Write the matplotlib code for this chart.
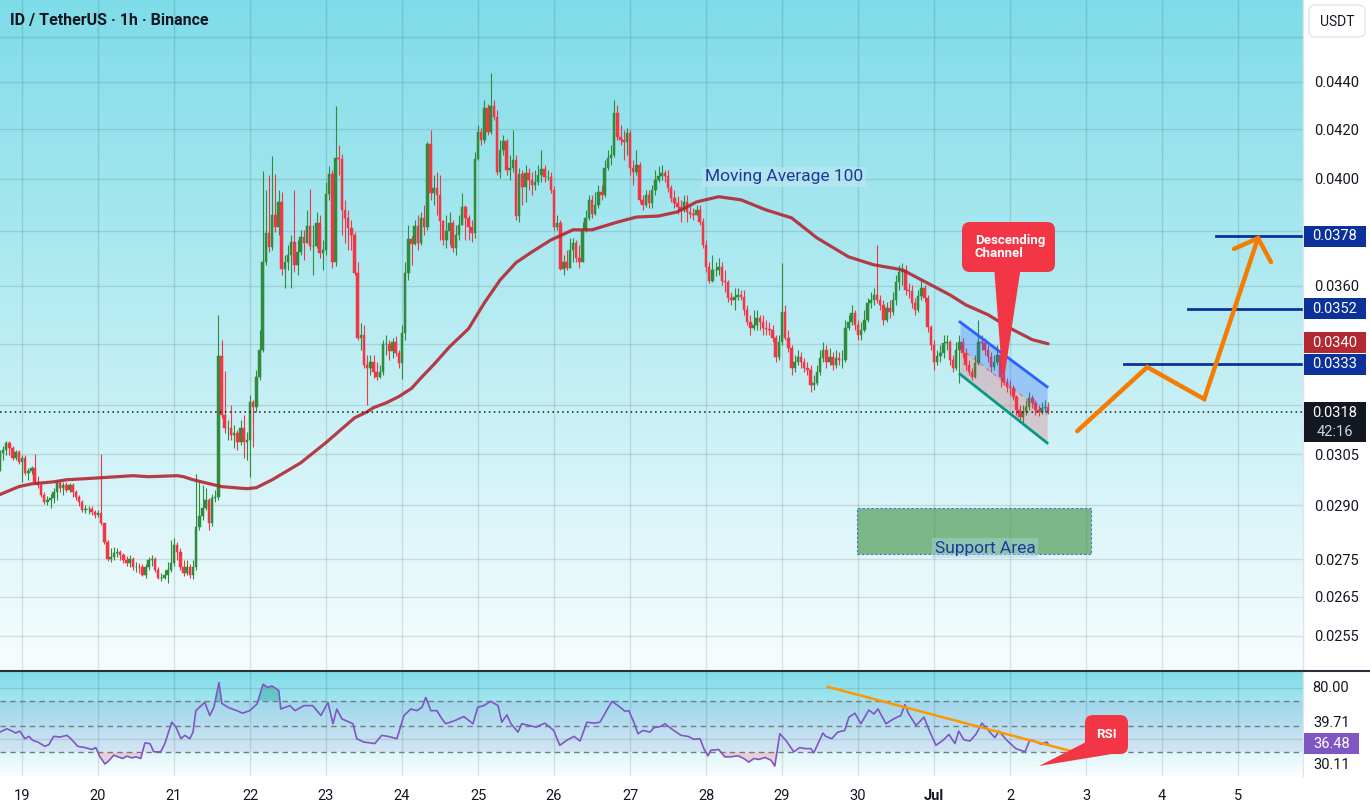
import numpy as np
import matplotlib
matplotlib.use("Agg")
import matplotlib.pyplot as plt
from matplotlib.patches import Rectangle, FancyBboxPatch, Polygon
from matplotlib.transforms import Affine2D
from matplotlib.ticker import NullLocator, NullFormatter

plt.rcParams['font.family'] = ['Roboto', 'DejaVu Sans']

# ------------------------------------------------------------------
# DATA  (prices in units of 0.0001 USDT, time in hours from 18 Jun 17:00)
# ------------------------------------------------------------------
SCALE = 1e-4
title = "ID / TetherUS · 1h · Binance"
first_open = 300.4

closes = [
    305.4, 306.3, 308.5, 306.9, 303.9, 305.7, 302.7, 303.9, 299.5, 300.1, 301.0, 296.8,
    296.0, 293.1, 291.0, 291.6, 292.2, 293.7, 296.5, 295.1, 296.0, 294.5, 296.0, 293.9,
    292.5, 291.0, 288.8, 289.0, 289.0, 288.2, 287.3, 287.9, 285.0, 279.8, 275.2, 275.7,
    276.8, 277.1, 276.3, 274.9, 274.1, 275.2, 272.8, 273.0, 272.8, 270.9, 273.0, 274.9,
    275.2, 272.2, 270.1, 270.1, 270.7, 272.2, 274.1, 279.0, 277.1, 273.0, 271.4, 273.0,
    270.9, 273.0, 283.9, 287.0, 289.3, 291.6, 285.0, 292.2, 292.5, 336.1, 317.1, 313.0,
    313.0, 310.9, 311.5, 308.8, 313.0, 308.8, 309.4, 321.2, 319.6, 329.2, 338.0, 368.6,
    379.2, 374.0, 386.0, 381.5, 391.0, 366.0, 368.6, 371.1, 375.9, 367.5, 372.2, 377.8,
    375.5, 381.8, 374.4, 374.4, 382.9, 371.8, 373.0, 394.1, 401.9, 368.6, 408.3, 407.9,
    387.9, 384.9, 381.1, 378.5, 364.6, 342.0, 343.0, 333.1, 332.1, 334.1, 330.8, 329.2,
    330.8, 340.0, 340.0, 337.7, 340.7, 337.1, 333.7, 343.7, 364.6, 377.0, 375.2, 381.8,
    375.5, 384.9, 381.5, 414.0, 394.5, 396.4, 393.7, 383.7, 376.6, 380.0, 382.9, 373.7,
    378.5, 382.2, 389.1, 384.9, 381.5, 379.2, 407.9, 418.9, 415.6, 428.9, 418.9, 429.7,
    425.1, 402.7, 411.5, 415.2, 403.5, 404.3, 407.5, 385.6, 401.9, 396.8, 402.3, 399.6,
    397.6, 398.8, 401.5, 403.9, 400.7, 400.7, 395.7, 381.5, 382.9, 366.0, 368.6, 366.4,
    373.0, 375.5, 370.0, 368.6, 380.4, 384.9, 391.8, 386.4, 389.9, 394.9, 393.7, 404.3,
    408.3, 409.5, 426.8, 416.8, 415.6, 414.8, 418.5, 404.3, 402.7, 405.5, 391.8, 389.9,
    393.7, 390.6, 395.7, 399.6, 401.1, 402.3, 401.1, 396.4, 392.5, 390.6, 389.1, 387.9,
    391.0, 387.2, 386.4, 386.0, 387.9, 383.3, 374.8, 366.8, 361.8, 365.7, 365.7, 366.8,
    361.8, 361.4, 355.8, 355.1, 356.1, 356.8, 356.1, 351.6, 347.4, 345.4, 346.4, 348.8,
    347.4, 345.4, 345.1, 344.7, 342.0, 335.7, 340.7, 350.9, 342.0, 338.7, 332.1, 334.1,
    335.7, 334.1, 332.1, 331.4, 326.6, 327.2, 330.8, 335.4, 338.0, 334.1, 335.7, 333.1,
    335.4, 334.7, 334.7, 345.4, 347.4, 350.6, 346.4, 343.0, 344.7, 348.1, 354.0, 355.1,
    356.8, 355.1, 353.3, 348.1, 352.3, 350.9, 355.1, 361.4, 365.0, 365.7, 358.6, 358.3,
    354.0, 351.6, 356.5, 359.3, 355.8, 345.8, 339.7, 334.1, 336.1, 337.1, 340.4, 340.7,
    334.7, 332.1, 338.0, 340.7, 337.1, 333.1, 330.8, 329.2, 333.7, 340.7, 340.4, 338.0,
    335.7, 332.4, 334.1, 336.4, 329.2, 327.6, 326.0, 325.6, 322.8, 318.7, 316.5, 318.0,
    319.6, 322.4, 320.8, 318.7, 318.0, 319.3, 319.6, 318.0,
]

highs = [
    306.3, 307.5, 309.1, 309.1, 307.5, 306.3, 306.3, 304.8, 304.8, 301.0, 301.5, 305.1,
    298.6, 296.5, 293.9, 292.8, 293.4, 295.1, 297.4, 297.4, 296.8, 296.8, 296.5, 296.5,
    294.5, 293.1, 291.6, 290.2, 289.9, 289.9, 288.8, 288.8, 305.1, 284.5, 280.4, 278.2,
    278.4, 278.2, 277.6, 276.8, 276.0, 276.3, 275.7, 274.4, 274.1, 273.6, 273.6, 275.5,
    276.3, 275.5, 272.8, 271.4, 272.2, 274.4, 280.4, 280.9, 279.6, 278.2, 274.9, 274.9,
    273.6, 274.9, 299.2, 296.8, 296.0, 295.1, 292.2, 293.4, 294.5, 349.9, 341.4, 331.1,
    315.5, 320.2, 314.0, 312.4, 315.5, 317.1, 311.8, 323.4, 321.8, 331.4, 344.7, 403.1,
    395.7, 401.5, 409.1, 401.9, 395.7, 394.9, 371.1, 374.8, 378.5, 395.7, 376.6, 380.4,
    380.4, 387.9, 396.1, 382.2, 387.2, 386.0, 376.6, 398.8, 405.1, 403.5, 429.7, 413.6,
    409.9, 391.8, 387.9, 384.1, 379.6, 368.6, 347.1, 346.4, 336.4, 336.4, 336.4, 334.1,
    333.1, 341.4, 343.0, 341.4, 342.0, 342.7, 338.0, 346.4, 368.6, 382.2, 378.1, 384.1,
    386.0, 387.2, 389.9, 414.8, 419.7, 401.5, 402.7, 401.5, 384.1, 386.0, 387.2, 384.1,
    382.2, 386.0, 394.5, 389.9, 386.0, 384.1, 410.7, 421.8, 420.6, 432.3, 430.6, 443.9,
    432.3, 428.1, 415.6, 417.7, 415.9, 409.5, 419.7, 409.5, 404.3, 403.5, 405.5, 404.3,
    402.7, 403.5, 405.5, 411.5, 405.5, 403.5, 402.7, 397.2, 386.0, 384.1, 371.1, 373.0,
    377.4, 377.4, 376.6, 374.8, 383.3, 387.9, 393.7, 393.7, 394.9, 397.6, 397.6, 407.5,
    411.5, 413.6, 432.3, 430.2, 421.8, 419.7, 420.6, 419.7, 407.5, 411.5, 406.7, 393.7,
    395.7, 395.7, 397.6, 403.5, 405.1, 405.5, 403.5, 403.5, 397.6, 395.7, 393.3, 391.8,
    393.7, 393.7, 389.9, 388.7, 389.9, 389.9, 384.9, 376.6, 368.6, 371.1, 368.6, 370.0,
    368.6, 365.7, 362.1, 357.9, 359.3, 359.3, 358.6, 358.6, 353.3, 349.9, 351.6, 351.6,
    349.9, 349.9, 348.1, 347.4, 346.4, 343.0, 343.0, 368.3, 353.3, 344.7, 339.7, 336.4,
    338.0, 337.3, 335.4, 334.1, 333.1, 329.8, 333.1, 338.0, 340.7, 339.7, 338.7, 337.3,
    338.0, 337.3, 338.0, 348.1, 349.9, 353.3, 351.6, 348.1, 347.4, 351.6, 355.8, 357.9,
    359.3, 374.8, 356.8, 355.1, 354.4, 355.1, 357.9, 363.9, 367.5, 368.3, 367.5, 361.1,
    360.4, 355.8, 358.6, 362.1, 360.4, 356.8, 346.4, 341.4, 338.0, 339.7, 343.0, 343.0,
    341.4, 336.4, 340.7, 343.0, 342.0, 338.7, 334.7, 332.1, 336.4, 348.1, 343.0, 342.0,
    339.7, 337.3, 336.4, 339.7, 337.3, 330.8, 328.8, 328.2, 326.6, 323.4, 320.2, 320.2,
    321.8, 324.4, 323.4, 321.8, 320.2, 321.2, 321.8, 321.2,
]

lows = [
    300.0, 303.3, 304.8, 304.8, 303.3, 303.3, 302.1, 296.8, 298.9, 297.4, 299.2, 296.2,
    295.1, 292.5, 290.5, 290.2, 289.3, 290.7, 291.6, 293.9, 293.1, 293.9, 293.7, 292.5,
    291.6, 289.9, 288.2, 287.9, 287.6, 287.3, 286.5, 286.7, 284.5, 279.3, 274.6, 274.4,
    274.9, 275.5, 274.9, 274.1, 273.3, 272.8, 272.2, 271.7, 271.4, 270.4, 270.1, 272.2,
    273.3, 271.7, 269.6, 269.1, 269.6, 268.6, 271.7, 273.3, 274.9, 272.2, 270.4, 270.7,
    270.1, 269.6, 272.2, 283.1, 285.9, 288.8, 283.1, 284.2, 291.0, 291.6, 316.2, 311.5,
    309.4, 309.4, 306.9, 306.3, 307.8, 303.9, 303.3, 298.3, 307.2, 318.0, 328.2, 337.3,
    367.5, 372.2, 373.0, 379.6, 378.5, 363.9, 359.3, 365.7, 359.3, 365.0, 363.9, 371.1,
    369.3, 376.6, 373.0, 363.9, 373.7, 370.0, 365.7, 371.1, 391.8, 366.4, 367.1, 401.5,
    378.5, 375.5, 373.0, 373.0, 363.9, 341.4, 338.0, 332.1, 320.2, 329.8, 328.8, 328.2,
    328.8, 329.8, 336.4, 334.7, 335.4, 336.1, 332.1, 328.5, 341.4, 362.1, 367.5, 374.8,
    373.0, 374.8, 378.5, 380.4, 391.8, 389.9, 386.0, 376.6, 374.8, 373.7, 374.8, 372.2,
    371.1, 376.6, 382.2, 376.6, 376.6, 375.9, 377.4, 407.5, 413.6, 414.4, 417.7, 418.1,
    423.9, 401.5, 400.4, 409.5, 401.5, 399.6, 402.7, 384.1, 383.3, 389.9, 391.0, 395.7,
    393.7, 395.7, 397.6, 398.8, 398.8, 399.6, 394.5, 380.4, 380.4, 365.7, 363.9, 365.7,
    368.6, 368.6, 368.6, 366.4, 368.6, 379.6, 384.1, 384.9, 386.0, 388.7, 391.8, 393.0,
    403.5, 405.5, 408.7, 415.6, 413.6, 407.5, 409.5, 401.5, 397.6, 401.5, 390.6, 387.9,
    389.1, 388.7, 388.7, 393.7, 398.8, 399.6, 398.8, 394.9, 391.0, 388.7, 386.4, 383.3,
    387.2, 383.3, 384.9, 384.1, 386.0, 382.2, 373.7, 365.0, 361.1, 361.4, 363.6, 363.9,
    360.4, 357.9, 354.4, 353.3, 351.6, 355.1, 355.1, 349.9, 346.4, 343.0, 344.7, 344.7,
    344.7, 343.0, 343.0, 343.0, 340.7, 334.1, 334.7, 339.7, 341.4, 337.3, 329.8, 330.8,
    333.1, 332.1, 330.8, 329.8, 324.1, 325.0, 326.6, 329.8, 334.1, 332.1, 333.1, 331.4,
    332.1, 333.1, 332.1, 334.1, 344.7, 346.4, 344.7, 341.4, 341.4, 344.0, 347.4, 352.3,
    353.3, 354.0, 351.6, 346.4, 347.4, 348.8, 349.9, 353.3, 358.6, 360.4, 356.8, 355.8,
    352.3, 349.9, 350.9, 355.1, 354.4, 344.0, 338.0, 331.4, 333.1, 334.1, 335.4, 338.0,
    333.1, 330.8, 331.4, 327.2, 335.4, 331.4, 329.8, 328.2, 328.8, 333.1, 338.0, 336.4,
    334.1, 330.8, 331.4, 333.1, 326.0, 326.6, 324.4, 323.4, 321.8, 317.1, 314.9, 314.6,
    317.1, 318.7, 319.3, 317.1, 316.8, 317.4, 318.0, 317.4,
]

ma_hours = [0, 6, 10, 17, 21, 32, 42, 47, 56, 58, 61, 65, 70, 74, 78, 81, 86, 95,
            103, 112, 116, 118, 122, 126, 130, 133, 137, 142, 148, 153, 158, 163,
            168, 174, 181, 187, 195, 201, 208, 214, 220, 227, 234, 242, 250, 258,
            268, 276, 285, 291, 300, 305, 312, 320, 326, 331]
ma_values = [293.1, 295.4, 296.2, 296.8, 297.4, 298.0, 298.6, 298.3, 298.6, 298.3,
             297.4, 296.5, 295.4, 295.1, 294.8, 295.1, 297.4, 302.4, 308.5, 316.1,
             318.0, 319.3, 320.8, 322.8, 325.4, 328.8, 333.1, 339.0, 345.1, 354.0,
             362.1, 368.3, 372.2, 376.6, 380.4, 380.4, 383.3, 385.2, 385.6, 387.2,
             391.0, 393.0, 391.8, 387.9, 384.9, 377.4, 370.4, 367.5, 365.7, 362.1,
             356.8, 353.3, 349.9, 344.7, 341.4, 340.0]

rsi_hours = [
    0, 2.2, 3.5, 5, 6.3, 7.9, 9.2, 10.4, 12, 14.2,
    15.5, 17, 19, 21.2, 22.4, 24.6, 26.8, 29.1, 30.3, 31.6,
    33.2, 34.4, 36, 37.3, 38.8, 40.1, 41.7, 43, 44.5, 45.8,
    47.4, 48.6, 50.8, 52.1, 54.3, 55.6, 57.2, 58.4, 60, 61,
    61.9, 64.7, 66.3, 67.6, 69.2, 70.1, 72, 74.8, 76.7, 78.9,
    81.2, 83.1, 84.6, 85.9, 87.5, 88.1, 88.7, 91.6, 93.2, 96,
    98.8, 101.4, 103.6, 105.2, 106.4, 108, 111.5, 112.7, 114.9, 118.4,
    120.6, 122.5, 125.4, 127.6, 129.8, 131.7, 133.3, 134.5, 136.1, 138,
    139.6, 140.8, 143.7, 146.5, 149.4, 150.9, 152.8, 155, 157.3, 158.5,
    160.1, 161.4, 163.6, 164.8, 167.1, 169.3, 172.1, 174.9, 176.8, 179,
    181.3, 183.2, 185.4, 187.6, 189.5, 191.7, 193.3, 195.2, 197.4, 198.6,
    200.2, 201.5, 203.1, 205.3, 206.5, 208.7, 210, 212.8, 215.1, 217.3,
    219.2, 221.1, 222.3, 223.6, 224.5, 227, 228.9, 230.8, 233.1, 234.9,
    236.5, 238.1, 239.7, 241.6, 243.5, 244.7, 246.3, 248.2, 250.7, 252.6,
    254.2, 256.1, 257, 259.9, 260.8, 262.7, 264.6, 266.8, 268.1, 270,
    271.9, 274.4, 276, 277.3, 279.8, 281.7, 283.3, 284.5, 285.8, 287,
    289.3, 291.8, 293.7, 295.6, 297.8, 299.7, 301.6, 302.8, 304.4, 306.3,
    308.2, 310.1, 311.7, 314.2, 315.5, 318, 320.8, 323.7, 325.3, 326.8,
    328.7, 330.6, 331,
]
rsi_values = [
    45.6, 48.2, 46.9, 44.9, 46.4, 40.5, 42.3, 39.2, 37.9, 34.6,
    35.9, 42.3, 41.8, 43.1, 40.5, 34.6, 33.6, 32.1, 33.6, 26.4,
    20.8, 23.3, 27.7, 26.4, 25.1, 26.9, 25.6, 26.4, 25.1, 37.2,
    36.7, 30.3, 30.3, 36.7, 53.3, 49.5, 40.5, 43.1, 40.5, 45.6,
    62.3, 68.7, 58.5, 64.9, 84.1, 67.9, 64.9, 62.3, 60.3, 62.3,
    67.4, 82.8, 80.3, 81.5, 79.0, 77.7, 63.6, 66.2, 62.3, 66.2,
    66.2, 58.5, 68.7, 52.1, 63.6, 55.9, 52.1, 40.5, 37.9, 36.7,
    43.1, 42.3, 40.5, 58.5, 63.6, 62.3, 64.9, 72.6, 62.3, 62.3,
    55.9, 52.1, 54.6, 57.7, 52.1, 64.9, 66.2, 69.5, 66.2, 53.3,
    59.0, 52.1, 45.6, 52.1, 50.8, 49.5, 52.6, 46.9, 35.4, 39.2,
    42.3, 38.7, 53.3, 52.6, 53.3, 62.8, 69.5, 66.2, 61.8, 62.3,
    53.3, 44.4, 46.9, 45.6, 49.0, 50.0, 52.1, 46.9, 43.1, 42.3,
    40.0, 40.5, 32.8, 27.2, 31.5, 32.1, 26.4, 26.4, 27.2, 25.1,
    22.3, 25.1, 24.4, 25.9, 23.8, 19.2, 44.4, 39.2, 30.3, 33.6,
    32.8, 32.8, 29.5, 44.9, 42.3, 40.5, 45.6, 46.9, 57.2, 60.3,
    52.1, 62.8, 59.7, 63.6, 52.1, 55.1, 57.2, 58.5, 66.9, 59.7,
    50.8, 57.2, 45.6, 35.4, 39.2, 43.8, 36.7, 46.4, 39.7, 38.7,
    43.8, 52.6, 48.2, 41.3, 46.4, 39.2, 32.8, 30.3, 39.7, 38.7,
    36.2, 37.9, 36.5,
]

day_labels = ["19", "20", "21", "22", "23", "24", "25", "26", "27", "28", "29",
              "30", "Jul", "2", "3", "4", "5"]
first_midnight_hour = 7
price_grid = [460, 440, 420, 400, 380, 360, 340, 320, 305, 290, 275, 265, 255]
price_tick_labels = [440, 420, 400, 360, 305, 290, 275, 265, 255]

last_price = 318.0
countdown = "42:16"
ma_last = 340.0
targets = [333.3, 352.0, 378.0]
target_start_hours = [354.9, 375.2, 383.9]

channel_hours = [303.2, 330.7]
channel_upper = [347.4, 325.9]
channel_lower = [330.0, 308.4]

support_hours = [270.7, 344.6]
support_prices = [276.5, 289.3]

proj_hours = [340.2, 362.3, 380.3, 397.3]
proj_prices = [312.0, 332.3, 322.0, 377.3]
arrow_hours = [389.7, 397.3, 401.4]
arrow_prices = [373.3, 377.3, 368.5]

rsi_trend_hours = [261.4, 338.0]
rsi_trend_values = [80.8, 31.0]
rsi_levels = [70, 50, 30]
rsi_now = 36.48
rsi_extra_labels = ["39.71", "30.11"]

# ------------------------------------------------------------------
W, H = 1370, 811
fig = plt.figure(figsize=(W / 100, H / 100), dpi=100, facecolor='white')
PX = Affine2D().scale(1.0 / W, -1.0 / H).translate(0, 1) + fig.transFigure

GREEN = '#2f8c3a'
RED = '#f23645'
NAVY = '#0c3299'
TXT = '#131722'
GRID = (0, 0, 0, 0.11)

X_END = 411.5
X_START = 0.05

main_rect = [0, (H - 670) / H, 1303 / W, 670 / H]
rsi_rect = [0, (H - 776) / H, 1303 / W, 105 / H]


def gradient_axes(rect, top, bottom):
    a = fig.add_axes(rect, zorder=-5)
    t = np.linspace(0, 1, 256)[:, None, None]
    img = np.array(top)[None, None, :] / 255 * (1 - t) + np.array(bottom)[None, None, :] / 255 * t
    a.imshow(img, aspect='auto', extent=[0, 1, 0, 1], origin='upper')
    a.set_axis_off()
    return a


gradient_axes(main_rect, (126, 220, 232), (247, 253, 254))
gradient_axes(rsi_rect, (126, 220, 232), (250, 254, 255))

# ---------------- main price pane ----------------
ax = fig.add_axes(main_rect)
ax.set_facecolor('none')
ax.set_yscale('log')
for s in ax.spines.values():
    s.set_visible(False)

day_hours = [first_midnight_hour + 24 * k for k in range(len(day_labels))]
for hh in day_hours:
    ax.axvline(hh, color=GRID, lw=1, zorder=1)
for p in price_grid:
    ax.axhline(p * SCALE, color=GRID, lw=1, zorder=1)

c = np.array(closes) * SCALE
o = np.concatenate([[first_open], closes[:-1]]) * SCALE
hi = np.maximum(np.array(highs) * SCALE, np.maximum(o, c))
lo = np.minimum(np.array(lows) * SCALE, np.minimum(o, c))
idx = np.arange(len(c))
up = c >= o
for mask, col in ((up, GREEN), (~up, RED)):
    ax.vlines(idx[mask], lo[mask], hi[mask], color=col, lw=0.8, zorder=2)
    ax.bar(idx[mask], (c - o)[mask], bottom=o[mask], width=0.8, color=col,
           edgecolor=col, linewidth=0.35, zorder=2.5)

ax.plot(ma_hours, np.array(ma_values) * SCALE, color='#b22833', lw=2.3,
        alpha=0.9, zorder=3, solid_capstyle='round', solid_joinstyle='round')

ax.axhline(last_price * SCALE, color=TXT, lw=1.1, ls=(0, (1, 2.2)), zorder=4)

# descending channel
ch = np.array(channel_hours)
cu = np.array(channel_upper) * SCALE
cl = np.array(channel_lower) * SCALE
cm = np.sqrt(cu * cl)
ax.fill_between(ch, cm, cu, color='#2962ff', alpha=0.28, lw=0, zorder=3.5)
ax.fill_between(ch, cl, cm, color='#f23645', alpha=0.22, lw=0, zorder=3.5)
ax.plot(ch, cu, color='#2962ff', lw=2, zorder=4)
ax.plot(ch, cl, color='#089981', lw=2, zorder=4)
ax.plot(ch, cm, color='#f23645', lw=1, ls=(0, (3, 3)), alpha=0.5, zorder=4)

# support area
ax.add_patch(Rectangle((support_hours[0], support_prices[0] * SCALE),
                       support_hours[1] - support_hours[0],
                       (support_prices[1] - support_prices[0]) * SCALE,
                       fc=(0.22, 0.56, 0.24, 0.6), ec='#4a6fd0', lw=0.8,
                       ls=(0, (2, 2)), zorder=3))

# target lines
for tp, th in zip(targets, target_start_hours):
    ax.plot([th, X_END], [tp * SCALE, tp * SCALE], color=NAVY, lw=2, zorder=4)

# projected path
ax.plot(proj_hours, np.array(proj_prices) * SCALE, color='#f57c00', lw=3.2,
        zorder=5, solid_capstyle='round', solid_joinstyle='miter')
ax.plot(arrow_hours, np.array(arrow_prices) * SCALE, color='#f57c00', lw=3.2,
        zorder=5, solid_capstyle='round', solid_joinstyle='miter')

ax.set_xlim(X_START, X_END)
ax.set_ylim(0.024660, 0.047700)
ax.set_xticks([])
ax.yaxis.tick_right()
ax.set_yticks([p * SCALE for p in price_tick_labels])
ax.set_yticklabels([f"{p * SCALE:.4f}" for p in price_tick_labels])
ax.yaxis.set_minor_locator(NullLocator())
ax.yaxis.set_minor_formatter(NullFormatter())
ax.tick_params(axis='y', length=0, pad=8, labelsize=10.5, labelcolor=TXT)

# ---------------- RSI pane ----------------
ar = fig.add_axes(rsi_rect)
ar.set_facecolor('none')
for s in ar.spines.values():
    s.set_visible(False)
ar.set_xlim(X_START, X_END)
ar.set_ylim(11.5, 93.1)
for hh in day_hours:
    ar.axvline(hh, color=GRID, lw=1, zorder=1)
ar.axhline(80, color=GRID, lw=1, zorder=1)
ar.axhline(40, color=GRID, lw=1, zorder=1)
ar.axhspan(rsi_levels[-1], rsi_levels[0], color='#7e57c2', alpha=0.1, lw=0, zorder=1)
for lvl in rsi_levels:
    ar.axhline(lvl, color='#787b86', lw=1, ls=(0, (4, 3)), zorder=2)
rh = np.array(rsi_hours)
rv = np.array(rsi_values)
ar.fill_between(rh, rsi_levels[0], rv, where=rv > rsi_levels[0], interpolate=True,
                color='#26a69a', alpha=0.45, lw=0, zorder=3)
ar.fill_between(rh, rsi_levels[-1], rv, where=rv < rsi_levels[-1], interpolate=True,
                color='#f23645', alpha=0.2, lw=0, zorder=3)
ar.plot(rh, rv, color='#7e57c2', lw=1.2, zorder=4)
ar.plot(rsi_trend_hours, rsi_trend_values, color='#ff9800', lw=1.8, zorder=5)
ar.set_yticks([])
ar.set_xticks(day_hours)
ar.set_xticklabels(day_labels)
ar.tick_params(axis='x', length=0, pad=9, labelsize=10.5, labelcolor=TXT)
for lbl in ar.get_xticklabels():
    if lbl.get_text() == 'Jul':
        lbl.set_fontweight('bold')

# ---------------- separators ----------------
fig.add_artist(plt.Line2D([1303.5, 1303.5], [0, 776], transform=PX, color='#e0e3eb', lw=1, zorder=8))
fig.add_artist(plt.Line2D([0, W], [670.5, 670.5], transform=PX, color='#2a2e39', lw=1.5, zorder=8))


# ---------------- price-scale labels ----------------
def py(axis, val):
    return H - axis.transData.transform((1.0, val))[1]


def side_label(yc, text, fc, tc, x0=1304, w=62, h=21, fs=10.5):
    fig.add_artist(Rectangle((x0, yc - h / 2), w, h, transform=PX, fc=fc, ec='none', zorder=10))
    fig.text(x0 + w / 2, yc, text, transform=PX, ha='center', va='center', color=tc,
             fontsize=fs, zorder=11)


for tp in targets:
    side_label(py(ax, tp * SCALE), f"{tp * SCALE:.4f}", NAVY, 'white')
side_label(py(ax, ma_last * SCALE) - 1, f"{ma_last * SCALE:.4f}", '#b22833', 'white')

yl = py(ax, last_price * SCALE)
fig.add_artist(Rectangle((1304, yl - 10), 62, 40, transform=PX, fc='#131722', ec='none', zorder=10))
fig.text(1335, yl + 1, f"{last_price * SCALE:.4f}", transform=PX, ha='center', va='center',
         color='white', fontsize=10.5, zorder=11)
fig.text(1335, yl + 20, countdown, transform=PX, ha='center', va='center',
         color='#d1d4dc', fontsize=10.5, zorder=11)

fig.add_artist(FancyBboxPatch((1309, 5), 56, 32, boxstyle="round,pad=0,rounding_size=6",
                              transform=PX, fc='white', ec='#e0e3eb', lw=1, zorder=10))
fig.text(1337, 21.5, "USDT", transform=PX, ha='center', va='center', color=TXT,
         fontsize=10, zorder=11)

fig.text(1312, py(ar, 80), "80.00", transform=PX, ha='left', va='center', color=TXT,
         fontsize=10.5, zorder=11)
yr = py(ar, rsi_now)
side_label(yr, f"{rsi_now:.2f}", '#7e57c2', 'white', x0=1304, w=55)
side_label(yr - 21, rsi_extra_labels[0], 'white', TXT, x0=1304, w=55)
side_label(yr + 21, rsi_extra_labels[1], 'white', TXT, x0=1304, w=55)

# ---------------- annotations ----------------
fig.text(10, 20, title, transform=PX, ha='left', va='center', color=TXT,
         fontsize=11.5, fontweight='bold', zorder=11)

fig.text(784, 177, "Moving Average 100", transform=PX, ha='center', va='center',
         color='#1e3a9a', fontsize=12.5, zorder=11,
         bbox=dict(boxstyle='square,pad=0.15', fc='#bfe6f3', ec='none', alpha=0.6))

fig.text(985, 548, "Support Area", transform=PX, ha='center', va='center',
         color='#1e3a9a', fontsize=12.5, zorder=11,
         bbox=dict(boxstyle='square,pad=0.15', fc='#a9d6e3', ec='none', alpha=0.45))

# Descending channel callout
fig.add_artist(Polygon([(994, 266), (1021, 266), (1003, 386)], closed=True, transform=PX,
                       fc='#f23645', ec='none', zorder=9))
fig.add_artist(FancyBboxPatch((962, 222), 93, 50, boxstyle="round,pad=0,rounding_size=8",
                              transform=PX, fc='#f23645', ec='none', zorder=9))
fig.text(975, 247, "Descending\nChannel", transform=PX, ha='left', va='center',
         color='white', fontsize=9.5, fontweight='bold', linespacing=1.0, zorder=11)

# RSI callout
fig.add_artist(Polygon([(1090, 740), (1039, 766), (1112, 754)], closed=True, transform=PX,
                       fc='#f23645', ec='none', zorder=9))
fig.add_artist(FancyBboxPatch((1085, 715), 43, 39, boxstyle="round,pad=0,rounding_size=8",
                              transform=PX, fc='#f23645', ec='none', zorder=9))
fig.text(1106.5, 734, "RSI", transform=PX, ha='center', va='center', color='white',
         fontsize=9.5, fontweight='bold', zorder=11)

fig.savefig("out.png", dpi=100, facecolor='white')
